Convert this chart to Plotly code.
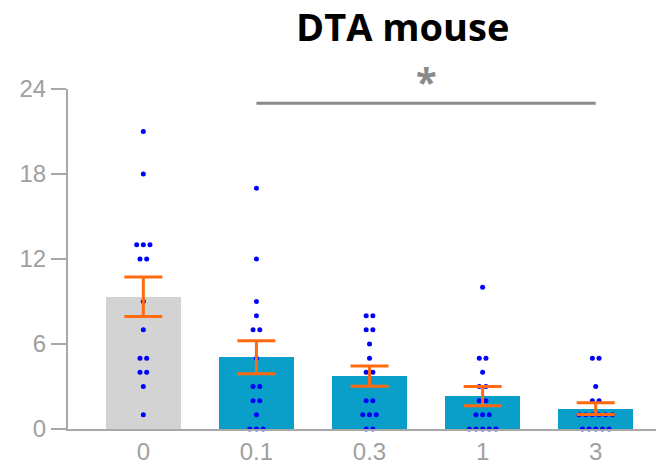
import plotly.graph_objects as go

categories = ["0", "0.1", "0.3", "1", "3"]
vals_0 = [21, 18, 13, 13, 13, 12, 12, 9, 7, 5, 5, 4, 4, 3, 1]
vals_01 = [17, 12, 9, 8, 7, 7, 5, 3, 3, 2, 2, 1, 0, 0, 0]
vals_03 = [8, 8, 7, 7, 6, 5, 4, 4, 2, 2, 1, 1, 1, 0, 0]
vals_1 = [10, 5, 5, 4, 3, 3, 2, 2, 1, 1, 1, 0, 0, 0, 0, 0]
vals_3 = [5, 5, 3, 2, 2, 1, 1, 1, 1, 1, 1, 0, 0, 0, 0, 0]
sem = [1.39, 1.17, 0.72, 0.68, 0.41]
bar_colors = ["#d3d3d3", "#099fc9", "#099fc9", "#099fc9", "#099fc9"]
sig_from, sig_to, sig_y = 1, 4, 23
title_text = "DTA mouse"

groups = [vals_0, vals_01, vals_03, vals_1, vals_3]
means = [sum(g) / len(g) for g in groups]
xpos = list(range(len(categories)))

fig = go.Figure()
fig.add_trace(go.Bar(x=xpos, y=means, width=0.663, marker=dict(color=bar_colors, line=dict(width=0)),
                     showlegend=False))

# dots: duplicates spread horizontally
dx, dy = [], []
step = 0.059
for i, g in enumerate(groups):
    counts = {}
    for v in g:
        counts[v] = counts.get(v, 0) + 1
    for v, n in counts.items():
        for k in range(n):
            dx.append(i + (k - (n - 1) / 2) * step)
            dy.append(v)
fig.add_trace(go.Scatter(x=dx, y=dy, mode="markers", marker=dict(color="#0000ff", size=5),
                         showlegend=False, cliponaxis=False))

fig.add_trace(go.Scatter(x=xpos, y=means, mode="markers",
                         marker=dict(size=1, color="rgba(0,0,0,0)"),
                         error_y=dict(type="data", array=sem, visible=True, color="#ff6a10",
                                      thickness=3, width=19),
                         showlegend=False, cliponaxis=False))

fig.add_shape(type="line", x0=sig_from, x1=sig_to, y0=sig_y, y1=sig_y,
              line=dict(color="#8a8a8a", width=3))
fig.add_annotation(x=(sig_from + sig_to) / 2, y=sig_y, yshift=22, text="<b>*</b>", showarrow=False,
                   font=dict(family="Noto Sans", size=38, color="#8a8a8a"))

L, R, T, B = 68, 0, 89, 45
W, H = 656, 474
pw, ph = W - L - R, H - T - B
fig.add_annotation(xref="paper", yref="paper", x=(402 - L) / pw, y=(H - B - 26) / ph,
                   xanchor="center", yanchor="middle",
                   text="<b>" + title_text + "</b>", showarrow=False,
                   font=dict(family="Open Sans", size=38, color="#000000"))

axis_col = "#a8a8a8"
fig.update_layout(
    width=W, height=H,
    margin=dict(l=L, r=R, t=T, b=B),
    plot_bgcolor="white", paper_bgcolor="white",
    bargap=0,
    xaxis=dict(range=[-0.666, 4.533], tickmode="array", tickvals=xpos, ticktext=categories,
               showline=True, linecolor=axis_col, linewidth=2, showgrid=False, zeroline=False,
               ticks="", tickfont=dict(family="Liberation Sans", size=24, color="#a0a0a0")),
    yaxis=dict(range=[0, 24], tickvals=[0, 6, 12, 18, 24], showline=True, linecolor=axis_col,
               linewidth=2, showgrid=False, zeroline=False, ticks="outside", ticklen=15,
               tickcolor=axis_col, tickwidth=2,
               tickfont=dict(family="Liberation Sans", size=24, color="#a0a0a0")),
)
fig.write_html("out.html")
